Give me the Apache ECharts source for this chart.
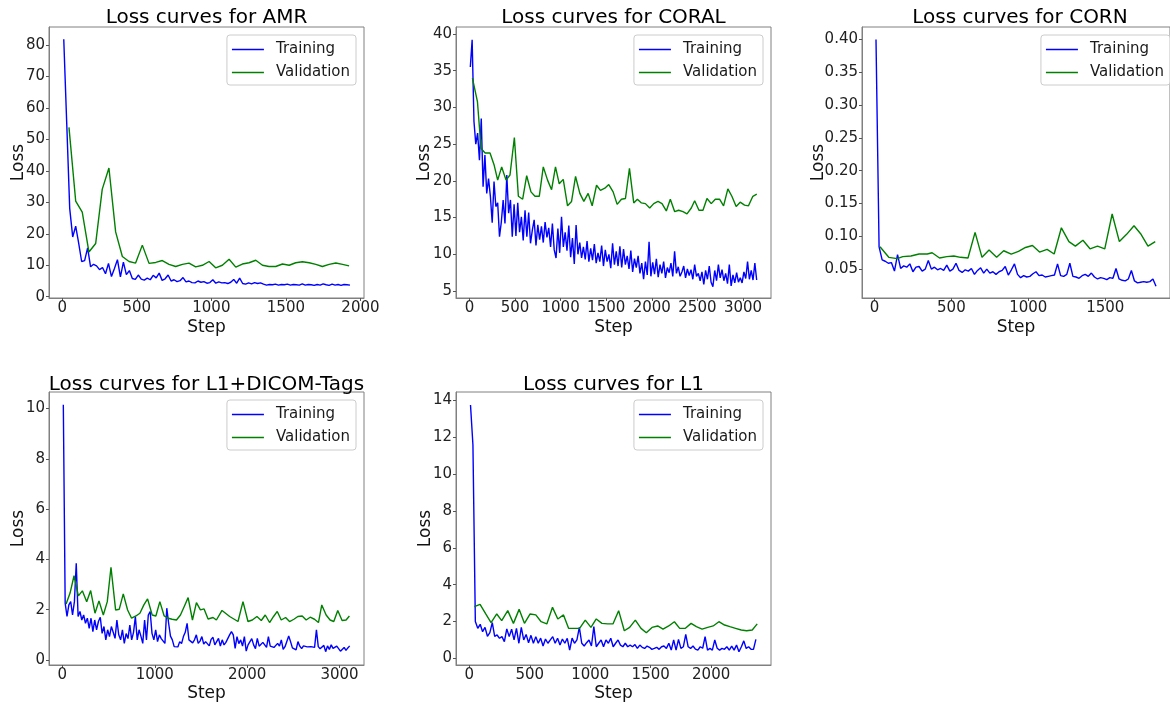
<!DOCTYPE html>
<html>
<head>
	<meta charset="UTF-8">
	<title>Loss curves</title>
	<script src="https://cdn.jsdelivr.net/npm/echarts@6/dist/echarts.min.js"></script>
	<style>
		html, body { margin: 0; padding: 0; background: #fff; }
		#main { width: 1170px; height: 705px; }
	</style>
</head>
<body>
	<div id="main"></div>
	<script type="text/javascript">
		// training loss is logged every TRAIN_EVERY steps, starting at TRAIN_START
		var TRAIN_START = 10, TRAIN_EVERY = 20;

		// AMR
		var amrTrain = [81.8, 55.0, 28.0, 19.0, 22.4, 17.0, 11.2, 11.5, 15.5, 9.5,
			10.3, 9.8, 8.6, 9.3, 7.3, 10.6, 6.4, 9.0, 11.8, 6.3,
			11.0, 7.0, 8.3, 5.8, 5.5, 6.9, 5.6, 5.3, 5.9, 5.4,
			6.8, 6.0, 7.5, 5.2, 5.7, 6.9, 5.0, 5.4, 4.8, 5.1,
			6.1, 4.7, 5.0, 4.5, 4.4, 5.0, 4.6, 4.8, 4.3, 4.5,
			5.4, 4.3, 4.7, 4.4, 4.5, 4.2, 4.6, 5.5, 4.3, 5.9,
			4.2, 4.0, 4.4, 4.1, 4.5, 4.2, 4.4, 4.0, 3.7, 3.9,
			3.8, 4.0, 3.7, 3.9, 3.8, 4.0, 3.7, 3.9, 3.8, 3.7,
			4.1, 3.7, 3.9, 3.8, 3.6, 3.9, 3.7, 4.1, 3.8, 3.6,
			4.0, 3.7, 3.9, 3.6, 3.9, 3.8, 3.7];
		var amrVal = [[45, 53.8], [90, 30.4], [134, 26.9], [179, 14.2], [224, 16.9], [268, 34.1], [313, 40.9], [358, 20.6], [403, 12.8], [448, 11.2],
			[492, 10.7], [537, 16.4], [582, 10.6], [627, 10.9], [671, 11.5], [716, 10.3], [761, 9.6], [806, 10.3], [850, 10.7], [895, 9.5],
			[940, 10.0], [985, 11.2], [1029, 9.2], [1074, 10.0], [1119, 11.9], [1164, 9.4], [1208, 10.4], [1253, 10.8], [1298, 11.6], [1343, 10.0],
			[1387, 9.6], [1432, 9.6], [1477, 10.4], [1522, 10.0], [1566, 10.8], [1611, 11.1], [1656, 10.8], [1701, 10.3], [1745, 9.6], [1790, 10.3],
			[1835, 10.7], [1880, 10.3], [1924, 9.8]];
		var amrXTicks = [0, 500, 1000, 1500, 2000];
		var amrYTicks = [0, 10, 20, 30, 40, 50, 60, 70, 80];

		// CORAL
		var coralTrain = [35.5, 39.2, 28.1, 25.0, 26.5, 22.8, 28.5, 19.2, 23.5, 18.3,
			20.3, 17.9, 14.3, 19.9, 16.5, 17.0, 12.4, 14.4, 17.4, 14.2,
			20.8, 15.6, 17.4, 12.4, 16.8, 12.5, 17.0, 13.0, 15.1, 11.9,
			16.0, 12.4, 15.7, 11.5, 13.3, 14.7, 11.2, 14.0, 12.0, 13.8,
			11.6, 14.4, 12.3, 13.6, 11.0, 14.2, 10.6, 9.5, 13.5, 10.2,
			15.1, 11.0, 13.0, 10.5, 13.9, 9.6, 12.2, 8.7, 14.0, 10.0,
			11.6, 9.5, 11.0, 9.3, 11.8, 9.0, 10.8, 9.2, 11.4, 8.8,
			10.2, 9.0, 11.2, 8.4, 10.6, 9.0, 10.0, 8.1, 11.5, 8.6,
			10.4, 8.4, 11.1, 8.2, 10.7, 8.6, 9.8, 8.0, 10.5, 7.6,
			9.4, 8.2, 9.8, 7.4, 8.8, 6.6, 9.0, 7.2, 11.7, 7.0,
			8.9, 7.3, 9.4, 6.9, 8.6, 7.4, 9.0, 6.8, 8.2, 7.5,
			8.8, 7.0, 10.4, 7.4, 8.3, 7.0, 7.6, 8.4, 6.8, 8.0,
			7.1, 7.9, 6.6, 8.6, 7.0, 7.4, 6.4, 7.6, 5.9, 7.8,
			6.6, 8.4, 6.2, 5.6, 7.8, 6.4, 8.6, 6.8, 7.9, 6.4,
			7.4, 6.0, 8.6, 5.7, 7.2, 6.1, 7.5, 6.2, 6.8, 6.1,
			7.6, 6.7, 9.0, 6.6, 7.8, 6.5, 8.8, 6.5];
		var coralVal = [[33, 34.0], [88, 30.8], [128, 24.4], [172, 23.8], [226, 23.8], [270, 22.2], [310, 20.1], [354, 21.9], [402, 20.1], [445, 20.8],
			[493, 25.9], [537, 17.9], [584, 17.5], [628, 20.7], [675, 18.5], [719, 17.9], [766, 17.9], [810, 21.9], [857, 20.1], [901, 18.8],
			[944, 21.9], [985, 19.6], [1029, 20.2], [1076, 16.6], [1120, 17.2], [1164, 20.6], [1211, 18.3], [1255, 17.2], [1302, 18.3], [1346, 16.6],
			[1394, 19.4], [1437, 18.7], [1485, 19.0], [1528, 19.5], [1576, 18.5], [1620, 16.8], [1667, 17.5], [1711, 17.6], [1755, 21.7], [1802, 17.0],
			[1842, 17.5], [1886, 17.0], [1930, 16.9], [1977, 16.3], [2021, 16.9], [2068, 17.2], [2112, 16.9], [2159, 15.9], [2203, 17.5], [2251, 15.8],
			[2294, 16.0], [2342, 15.8], [2386, 15.5], [2433, 16.3], [2470, 17.3], [2517, 16.0], [2561, 16.0], [2605, 17.6], [2652, 16.9], [2696, 17.5],
			[2743, 17.5], [2787, 16.6], [2834, 18.9], [2878, 17.9], [2925, 16.5], [2969, 17.1], [3017, 16.7], [3060, 16.6], [3108, 17.9], [3151, 18.2]];
		var coralXTicks = [0, 500, 1000, 1500, 2000, 2500, 3000];
		var coralYTicks = [5, 10, 15, 20, 25, 30, 35, 40];

		// CORN
		var cornTrain = [0.400, 0.084, 0.064, 0.062, 0.059, 0.060, 0.047, 0.072, 0.051, 0.055,
			0.053, 0.058, 0.046, 0.053, 0.054, 0.047, 0.050, 0.063, 0.050, 0.053,
			0.049, 0.051, 0.048, 0.056, 0.047, 0.050, 0.059, 0.048, 0.045, 0.049,
			0.047, 0.051, 0.042, 0.048, 0.052, 0.044, 0.050, 0.044, 0.046, 0.042,
			0.046, 0.048, 0.054, 0.041, 0.049, 0.058, 0.042, 0.037, 0.040, 0.038,
			0.039, 0.043, 0.046, 0.040, 0.041, 0.038, 0.039, 0.040, 0.041, 0.058,
			0.040, 0.039, 0.042, 0.059, 0.039, 0.038, 0.036, 0.040, 0.042, 0.039,
			0.044, 0.038, 0.035, 0.037, 0.036, 0.034, 0.037, 0.036, 0.051, 0.035,
			0.033, 0.032, 0.035, 0.048, 0.032, 0.029, 0.030, 0.031, 0.030, 0.031,
			0.035, 0.024];
		var cornVal = [[36, 0.084], [93, 0.068], [148, 0.066], [184, 0.069], [237, 0.070], [290, 0.073], [343, 0.073], [375, 0.075], [423, 0.067], [470, 0.069],
			[516, 0.070], [559, 0.068], [608, 0.067], [654, 0.106], [699, 0.068], [745, 0.079], [794, 0.068], [840, 0.078], [889, 0.073], [936, 0.077],
			[982, 0.083], [1027, 0.086], [1073, 0.076], [1122, 0.080], [1168, 0.073], [1215, 0.113], [1264, 0.092], [1306, 0.085], [1355, 0.094], [1401, 0.081],
			[1450, 0.085], [1497, 0.081], [1545, 0.134], [1592, 0.092], [1639, 0.103], [1687, 0.116], [1730, 0.104], [1778, 0.085], [1825, 0.092]];
		var cornXTicks = [0, 500, 1000, 1500];
		var cornYTicks = [0.05, 0.10, 0.15, 0.20, 0.25, 0.30, 0.35, 0.40];

		// L1+DICOM-Tags
		var dicomTrain = [10.15, 2.26, 1.73, 2.19, 2.32, 1.79, 2.32, 3.85, 1.73, 1.93,
			1.59, 1.79, 1.46, 1.66, 1.26, 1.66, 1.13, 1.59, 1.20, 1.53,
			1.70, 1.06, 1.33, 0.80, 1.20, 0.93, 1.33, 1.10, 0.86, 1.59,
			1.00, 0.80, 1.20, 0.66, 1.05, 0.85, 1.39, 0.80, 1.10, 1.73,
			0.80, 1.20, 0.95, 0.66, 1.59, 0.80, 1.79, 1.93, 1.06, 0.80,
			1.20, 0.73, 1.00, 0.85, 0.80, 0.66, 2.06, 1.46, 0.95, 0.80,
			0.53, 0.60, 0.52, 0.73, 0.65, 0.93, 1.10, 1.46, 0.80, 0.73,
			0.68, 0.80, 1.00, 0.66, 0.75, 0.93, 0.63, 0.73, 0.80, 0.56,
			0.82, 0.90, 0.60, 0.73, 0.86, 0.55, 0.80, 0.60, 0.70, 0.73,
			1.00, 1.13, 1.00, 0.46, 0.93, 0.65, 0.80, 0.55, 0.93, 0.35,
			0.60, 0.53, 0.85, 0.60, 0.45, 0.86, 0.55, 0.53, 0.70, 0.66,
			0.50, 0.93, 0.55, 0.60, 0.50, 0.45, 0.66, 0.55, 0.80, 0.42,
			0.53, 0.46, 0.95, 0.73, 0.48, 0.53, 0.40, 0.73, 0.55, 0.45,
			0.56, 0.50, 0.52, 0.50, 0.53, 0.48, 0.50, 1.20, 0.53, 0.45,
			0.50, 0.58, 0.33, 0.56, 0.42, 0.60, 0.46, 0.42, 0.55, 0.50,
			0.35, 0.42, 0.50, 0.38, 0.48, 0.56];
		var dicomVal = [[40, 2.23], [83, 2.66], [126, 3.35], [173, 2.55], [216, 2.75], [263, 2.32], [306, 2.76], [353, 1.86], [396, 2.35], [443, 1.79],
			[486, 2.32], [526, 3.69], [576, 1.99], [616, 2.02], [659, 2.63], [706, 1.99], [749, 1.66], [796, 1.75], [839, 1.86], [882, 2.19],
			[922, 2.43], [972, 1.79], [1012, 1.75], [1055, 2.32], [1102, 1.75], [1145, 1.66], [1188, 1.62], [1235, 1.59], [1278, 1.79], [1318, 2.12],
			[1361, 2.48], [1408, 1.59], [1451, 2.28], [1494, 1.99], [1534, 2.03], [1577, 1.63], [1631, 1.69], [1667, 1.59], [1728, 1.97], [1811, 1.73],
			[1901, 1.53], [1955, 2.32], [2009, 1.53], [2056, 1.59], [2106, 1.73], [2153, 1.57], [2196, 1.79], [2243, 1.49], [2286, 1.73], [2326, 1.93],
			[2369, 1.59], [2416, 1.69], [2459, 1.53], [2506, 1.62], [2549, 1.73], [2596, 1.75], [2639, 1.59], [2682, 1.70], [2729, 1.62], [2772, 1.49],
			[2808, 2.19], [2855, 1.79], [2898, 1.59], [2938, 1.53], [2981, 1.97], [3028, 1.57], [3071, 1.59], [3107, 1.75]];
		var dicomXTicks = [0, 1000, 2000, 3000];
		var dicomYTicks = [0, 2, 4, 6, 8, 10];

		// L1
		var l1Train = [13.75, 11.6, 2.00, 1.63, 1.85, 1.45, 1.68, 1.20, 1.40, 1.94,
			1.20, 1.27, 1.09, 1.18, 0.91, 1.60, 1.18, 1.58, 1.00, 1.63,
			0.82, 1.68, 1.00, 1.30, 0.85, 1.25, 0.82, 1.18, 0.82, 1.10,
			0.67, 1.05, 0.82, 1.00, 1.18, 0.82, 1.09, 0.72, 1.05, 0.82,
			1.09, 0.45, 1.10, 0.82, 1.00, 1.68, 0.82, 0.67, 0.85, 1.00,
			0.67, 1.72, 0.63, 0.82, 1.00, 0.63, 1.00, 0.82, 1.09, 0.63,
			0.82, 1.00, 0.72, 0.63, 0.82, 0.63, 0.72, 0.63, 0.75, 0.54,
			0.72, 0.60, 0.54, 0.67, 0.60, 0.49, 0.54, 0.60, 0.49, 0.63,
			0.67, 0.54, 0.82, 0.45, 1.00, 0.45, 1.03, 0.54, 0.63, 1.30,
			0.63, 0.54, 0.67, 0.50, 0.45, 0.63, 0.55, 1.18, 0.45, 0.54,
			0.45, 1.00, 0.55, 0.45, 0.54, 0.49, 0.63, 0.45, 0.67, 0.45,
			0.72, 0.36, 0.63, 0.95, 0.54, 0.63, 0.49, 0.49, 1.03];
		var l1Val = [[42, 2.81], [89, 2.93], [136, 2.41], [180, 1.94], [227, 2.41], [268, 2.05], [318, 2.59], [365, 1.90], [412, 2.66], [456, 1.90],
			[503, 2.41], [550, 2.36], [594, 1.99], [641, 1.87], [688, 2.77], [732, 2.14], [779, 2.36], [821, 1.63], [868, 1.63], [912, 1.63],
			[959, 2.08], [1006, 1.68], [1050, 2.14], [1097, 1.90], [1144, 1.87], [1188, 1.87], [1235, 2.59], [1282, 1.50], [1326, 1.68], [1373, 2.08],
			[1420, 1.63], [1464, 1.39], [1511, 1.68], [1558, 1.76], [1602, 1.59], [1649, 1.76], [1696, 1.99], [1740, 1.63], [1787, 1.63], [1834, 1.90],
			[1878, 1.72], [1925, 1.59], [1972, 1.68], [2017, 1.76], [2064, 1.99], [2111, 1.81], [2155, 1.72], [2202, 1.63], [2249, 1.54], [2293, 1.50],
			[2340, 1.54], [2381, 1.87]];
		var l1XTicks = [0, 500, 1000, 1500, 2000];
		var l1YTicks = [0, 2, 4, 6, 8, 10, 12, 14];

		var FONT = 'DejaVu Sans';
		var FRAME = '#808080';
		var TEXT = '#222';

		// panel layout: grid rectangle in px, axis ranges and label gaps
		var panels = [
			{ title: 'Loss curves for AMR', train: amrTrain, val: amrVal, xTicks: amrXTicks, yTicks: amrYTicks,
				xMin: -89, xMax: 2024, yMin: -0.4, yMax: 85.7, dec: 0,
				left: 49, top: 27, width: 315, height: 271, titleY: 18, yGap: 22, xGap: 21 },
			{ title: 'Loss curves for CORAL', train: coralTrain, val: coralVal, xTicks: coralXTicks, yTicks: coralYTicks,
				xMin: -147, xMax: 3307, yMin: 4.05, yMax: 40.95, dec: 0,
				left: 456, top: 27, width: 315, height: 271, titleY: 18, yGap: 22.5, xGap: 21 },
			{ title: 'Loss curves for CORN', train: cornTrain, val: cornVal, xTicks: cornXTicks, yTicks: cornYTicks,
				xMin: -81, xMax: 1921, yMin: 0.006, yMax: 0.419, dec: 2,
				left: 862, top: 27, width: 316, height: 271, titleY: 18, yGap: 35, xGap: 21 },
			{ title: 'Loss curves for L1+DICOM-Tags', train: dicomTrain, val: dicomVal, xTicks: dicomXTicks, yTicks: dicomYTicks,
				xMin: -145, xMax: 3265, yMin: -0.2, yMax: 10.66, dec: 0,
				left: 49, top: 392, width: 315, height: 273, titleY: 385, yGap: 21.7, xGap: 20 },
			{ title: 'Loss curves for L1', train: l1Train, val: l1Val, xTicks: l1XTicks, yTicks: l1YTicks,
				xMin: -110, xMax: 2495, yMin: -0.36, yMax: 14.46, dec: 0,
				left: 456, top: 392, width: 315, height: 273, titleY: 385, yGap: 21.7, xGap: 20 }
		];

		var option = {
			animation: false,
			backgroundColor: '#fff',
			textStyle: { fontFamily: FONT },
			grid: [], xAxis: [], yAxis: [], series: [], legend: [], graphic: []
		};

		panels.forEach(function (p, i) {
			option.grid.push({
				left: p.left, top: p.top, width: p.width, height: p.height,
				show: true, borderColor: FRAME, borderWidth: 1, backgroundColor: 'transparent'
			});
			option.xAxis.push({
				type: 'value', gridIndex: i, min: p.xMin, max: p.xMax,
				name: 'Step', nameLocation: 'middle', nameGap: p.xGap, nameMoveOverlap: false,
				nameTextStyle: { fontFamily: FONT, fontSize: 17, color: '#111' },
				axisLine: { show: true, onZero: false, lineStyle: { color: FRAME } },
				axisTick: { show: true, length: 3, customValues: p.xTicks, lineStyle: { color: '#555' } },
				axisLabel: {
					customValues: p.xTicks, margin: 3, fontFamily: FONT, fontSize: 15, color: TEXT,
					formatter: function (v) { return String(v); }
				},
				splitLine: { show: false }
			});
			option.yAxis.push({
				type: 'value', gridIndex: i, min: p.yMin, max: p.yMax,
				name: 'Loss', nameLocation: 'middle', nameGap: p.yGap, nameRotate: 90, nameMoveOverlap: false,
				nameTextStyle: { fontFamily: FONT, fontSize: 17, color: '#111' },
				axisLine: { show: true, onZero: false, lineStyle: { color: FRAME } },
				axisTick: { show: true, length: 3, customValues: p.yTicks, lineStyle: { color: '#555' } },
				axisLabel: {
					customValues: p.yTicks, margin: 4, fontFamily: FONT, fontSize: 15, color: TEXT,
					formatter: function (v) { return v.toFixed(p.dec); }
				},
				splitLine: { show: false }
			});
			option.series.push({
				type: 'line', name: 'Training', xAxisIndex: i, yAxisIndex: i,
				data: p.train.map(function (v, k) { return [TRAIN_START + k * TRAIN_EVERY, v]; }),
				showSymbol: false, symbol: 'none',
				lineStyle: { color: '#0000ff', width: 1.4 }, itemStyle: { color: '#0000ff' }
			});
			option.series.push({
				type: 'line', name: 'Validation', xAxisIndex: i, yAxisIndex: i,
				data: p.val,
				showSymbol: false, symbol: 'none',
				lineStyle: { color: '#008000', width: 1.4 }, itemStyle: { color: '#008000' }
			});
			option.legend.push({
				data: ['Training', 'Validation'], orient: 'vertical', selectedMode: false,
				right: Math.max(0, 1170 - (p.left + p.width - 8)), top: p.top + 8,
				icon: 'rect', itemWidth: 32, itemHeight: 1.5, itemGap: 8,
				padding: [7, 6, 5, 5],
				backgroundColor: 'rgba(255,255,255,0.8)', borderColor: '#cccccc', borderWidth: 1, borderRadius: 3,
				textStyle: { fontFamily: FONT, fontSize: 15, color: '#1a1a1a', padding: [0, 0, 0, 7] }
			});
			option.graphic.push({
				type: 'text', x: p.left + p.width / 2, y: p.titleY,
				style: {
					text: p.title, fontFamily: FONT, fontSize: 20, fill: '#000',
					align: 'center', verticalAlign: 'middle', textAlign: 'center', textVerticalAlign: 'middle'
				}
			});
		});

		var myChart = echarts.init(document.getElementById('main'));
		myChart.setOption(option);
	</script>
</body>
</html>
